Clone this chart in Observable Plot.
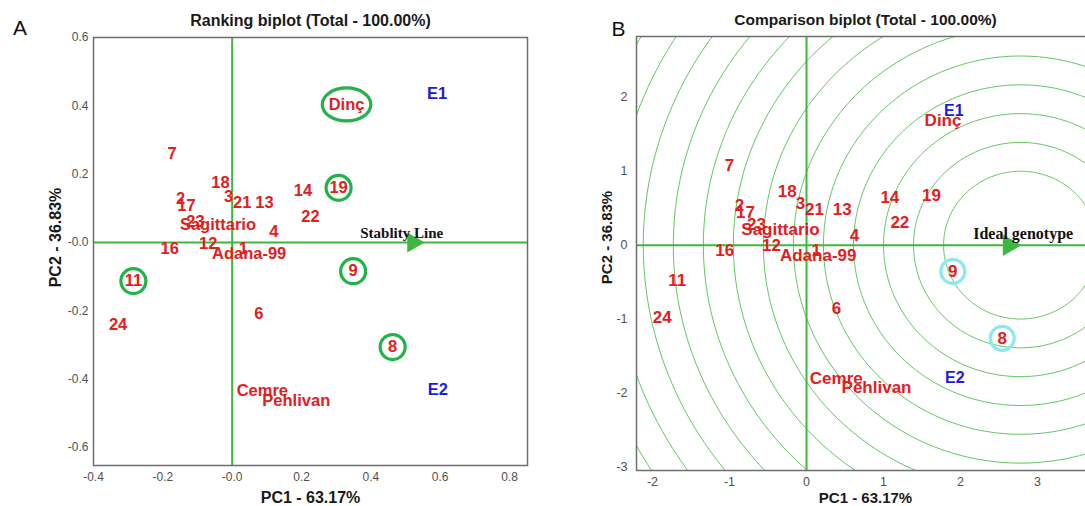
<!DOCTYPE html>
<html><head><meta charset="utf-8">
<script src="https://cdn.jsdelivr.net/npm/d3@7"></script>
<script src="https://cdn.jsdelivr.net/npm/@observablehq/plot@0.6"></script>
<style>
html,body{margin:0;padding:0;background:#fff;overflow:hidden;width:1085px;height:506px;}
#a{position:absolute;left:0;top:0;width:540px;height:506px;}
#b{position:absolute;left:570px;top:0;width:540px;height:506px;}
#a svg,#b svg{max-width:none !important;}
</style></head><body><div id="a"></div><div id="b"></div>
<script>
// ---------- data ----------
const genotypes = ["Dinç","7","18","2","17","3","21","13","14","19","22","Sagittario","23","4","16","12","1","Adana-99","11","24","9","6","8","Cemre","Pehlivan"];
// Ranking biplot (A)
const pc1A = [0.330,-0.173,-0.034,-0.149,-0.132,-0.010,0.029,0.093,0.204,0.307,0.226,-0.041,-0.106,0.120,-0.180,-0.069,0.032,0.049,-0.285,-0.329,0.349,0.077,0.463,0.087,0.185];
const pc2A = [0.404,0.260,0.175,0.128,0.109,0.135,0.116,0.116,0.153,0.160,0.075,0.051,0.062,0.033,-0.018,-0.003,-0.018,-0.032,-0.113,-0.240,-0.084,-0.208,-0.306,-0.433,-0.462];
// Comparison biplot (B)
const pc1B = [1.773,-1.000,-0.251,-0.870,-0.792,-0.078,0.104,0.464,1.082,1.623,1.212,-0.338,-0.649,0.623,-1.061,-0.455,0.126,0.152,-1.679,-1.874,1.900,0.390,2.542,0.386,0.909];
const pc2B = [1.689,1.081,0.726,0.531,0.442,0.564,0.486,0.477,0.645,0.669,0.307,0.216,0.274,0.135,-0.077,0.000,-0.077,-0.135,-0.482,-0.986,-0.355,-0.855,-1.261,-1.811,-1.923];
const environments = ["E1","E2"];
const envPc1A = [0.591,0.593];
const envPc2A = [0.435,-0.432];
const envPc1B = [1.913,1.926];
const envPc2B = [1.815,-1.797];
const circledA = ["Dinç","19","9","11","8"];
const circledB = ["9","8"];
// axis lines / arrows
const stabilityArrow = {x: 0.522, y: 0, label: "Stablity Line", lx: 0.489, ly: 0.028};
const idealArrow = {x: 2.63, y: 0, label: "Ideal genotype", lx: 2.814, ly: 0.149};
const ringCenter = {x: 2.78, y: 0};
const ringRadii = [1.00,1.39,1.78,2.17,2.56,2.95,3.34,3.73,4.12,4.51,4.90,5.29,5.68];
// ticks
const xTicksA = [-0.4,-0.2,0,0.2,0.4,0.6,0.8];
const xTickLabelsA = ["-0.4","-0.2","-0.0","0.2","0.4","0.6","0.8"];
const yTicksA = [0.6,0.4,0.2,0,-0.2,-0.4,-0.6];
const yTickLabelsA = ["0.6","0.4","0.2","-0.0","-0.2","-0.4","-0.6"];
const xTicksB = [-2,-1,0,1,2,3];
const xTickLabelsB = ["-2","-1","0","1","2","3"];
const yTicksB = [2,1,0,-1,-2,-3];
const yTickLabelsB = ["2","1","0","-1","-2","-3"];
const titleA = "Ranking biplot (Total - 100.00%)";
const titleB = "Comparison biplot (Total - 100.00%)";
const xLabel = "PC1 - 63.17%";
const yLabel = "PC2 - 36.83%";

// ---------- styles ----------
const RED = "#e0201e", BLUE = "#1c1cd8", GREEN = "#3cb93c", RING = "#62c662";
const SANS = "Liberation Sans, Arial, sans-serif";
const SERIF = "Liberation Serif, Times New Roman, serif";

const rowsA = genotypes.map((g,i)=>({g, x: pc1A[i], y: pc2A[i]}));
const rowsB = genotypes.map((g,i)=>({g, x: pc1B[i], y: pc2B[i]}));
const envA = environments.map((e,i)=>({e, x: envPc1A[i], y: envPc2A[i]}));
const envB = environments.map((e,i)=>({e, x: envPc1B[i], y: envPc2B[i]}));

const fmt = (ticks, labels) => d => labels[ticks.findIndex(t => Math.abs(t-d) < 1e-9)];

const ellipse = {draw(ctx, size){
  const r = Math.sqrt(size/Math.PI), rx = r*1.47, ry = r, k = 0.5523;
  ctx.moveTo(rx,0);
  ctx.bezierCurveTo(rx, ry*k, rx*k, ry, 0, ry);
  ctx.bezierCurveTo(-rx*k, ry, -rx, ry*k, -rx, 0);
  ctx.bezierCurveTo(-rx, -ry*k, -rx*k, -ry, 0, -ry);
  ctx.bezierCurveTo(rx*k, -ry, rx, -ry*k, rx, 0);
  ctx.closePath();
}};

function decor(title, letter, titleSize, labSize) {
  const isA = letter === "A";
  const c = {textAnchor: "middle", lineAnchor: "middle", fontFamily: SANS};
  return [
    Plot.text([title], {...c, frameAnchor: "top", dy: isA ? -17 : -16.5, fontWeight: "bold", fontSize: titleSize, fill: "#1a1a1a"}),
    Plot.text([letter], {...c, frameAnchor: "top-left", dx: isA ? -73.5 : -18, dy: isA ? -9.5 : -7.5, fontSize: 21, fill: "#111"}),
    Plot.text([xLabel], {...c, frameAnchor: "bottom", dy: isA ? 32 : 28, fontWeight: "bold", fontSize: labSize, fill: "#1a1a1a"}),
    Plot.text([yLabel], {...c, frameAnchor: "left", dx: isA ? -38 : -29, dy: isA ? -14 : -16, rotate: -90, fontWeight: "bold", fontSize: labSize, fill: "#1a1a1a"})
  ];
}

// ---------- Panel A ----------
const plotA = Plot.plot({
  width: 540, height: 506,
  marginLeft: 93, marginRight: 13, marginTop: 37, marginBottom: 41,
  x: {domain: [-0.4, 0.852]},
  y: {domain: [-0.6526, 0.6]},
  style: {fontFamily: SANS, fontSize: "12px", color: "#505050", background: "transparent", overflow: "visible"},
  marks: [
    Plot.ruleY([0], {stroke: GREEN, strokeWidth: 2}),
    Plot.ruleX([0], {stroke: GREEN, strokeWidth: 2}),
    Plot.frame({stroke: "#6e6e6e", strokeWidth: 1.5}),
    Plot.axisX(xTicksA, {tickSize: 0, tickPadding: 7, tickFormat: fmt(xTicksA, xTickLabelsA), label: null, fontSize: 12}),
    Plot.axisY(yTicksA, {tickSize: 0, tickPadding: 5, tickFormat: fmt(yTicksA, yTickLabelsA), label: null, fontSize: 12}),
    Plot.dot([stabilityArrow], {x: "x", y: "y", symbol: "triangle", rotate: 90, r: 7.5, fill: GREEN, stroke: "none"}),
    Plot.text([stabilityArrow], {x: "lx", y: "ly", text: "label", fontFamily: SERIF, fontWeight: "bold", fontSize: 15, fill: "#111"}),
    Plot.dot(rowsA.filter(d => circledA.includes(d.g) && d.g !== "Dinç"), {x: "x", y: "y", r: 12.5, stroke: "#22b24a", strokeWidth: 3.2, fill: "none"}),
    Plot.dot(rowsA.filter(d => d.g === "Dinç"), {x: "x", y: "y", r: 16.5, symbol: ellipse, stroke: "#22b24a", strokeWidth: 3.2, fill: "none"}),
    Plot.text(rowsA, {x: "x", y: "y", text: "g", fill: RED, fontWeight: "bold", fontSize: 16.5, fontFamily: SANS}),
    Plot.text(envA, {x: "x", y: "y", text: "e", fill: BLUE, fontWeight: "bold", fontSize: 16.5, fontFamily: SANS}),
    ...decor(titleA, "A", 16, 16)
  ]
});
document.getElementById("a").append(plotA);

// ---------- Panel B ----------
const ringPts = ringRadii.flatMap(r => d3.range(0, 361, 1.5).map(a => ({r, x: ringCenter.x + r*Math.cos(a*Math.PI/180), y: ringCenter.y + r*Math.sin(a*Math.PI/180)})));
const plotB = Plot.plot({
  width: 540, height: 506,
  marginLeft: 66, marginRight: 16, marginTop: 36, marginBottom: 36,
  x: {domain: [-2.208, 3.74]},
  y: {domain: [-3.05, 2.824]},
  style: {fontFamily: SANS, fontSize: "12px", color: "#505050", background: "transparent", overflow: "visible"},
  marks: [
    Plot.line(ringPts, {x: "x", y: "y", z: "r", stroke: RING, strokeWidth: 1, clip: true}),
    Plot.ruleY([0], {stroke: GREEN, strokeWidth: 2}),
    Plot.ruleX([0], {stroke: GREEN, strokeWidth: 2}),
    Plot.frame({stroke: "#6e6e6e", strokeWidth: 1.5}),
    Plot.axisX(xTicksB, {tickSize: 0, tickPadding: 7, tickFormat: fmt(xTicksB, xTickLabelsB), label: null, fontSize: 12.5}),
    Plot.axisY(yTicksB, {tickSize: 0, tickPadding: 9, tickFormat: fmt(yTicksB, yTickLabelsB), label: null, fontSize: 12.5}),
    Plot.dot([idealArrow], {x: "x", y: "y", symbol: "triangle", rotate: 90, r: 8, fill: GREEN, stroke: "none"}),
    Plot.text([idealArrow], {x: "lx", y: "ly", text: "label", fontFamily: SERIF, fontWeight: "bold", fontSize: 16, fill: "#111"}),
    Plot.dot(rowsB.filter(d => circledB.includes(d.g)), {x: "x", y: "y", r: 12, stroke: "#8ee8f0", strokeWidth: 3.2, fill: "none"}),
    Plot.text(envB, {x: "x", y: "y", text: "e", fill: BLUE, fontWeight: "bold", fontSize: 16, fontFamily: SANS}),
    Plot.text(rowsB, {x: "x", y: "y", text: "g", fill: RED, fontWeight: "bold", fontSize: 17, fontFamily: SANS}),
    ...decor(titleB, "B", 15.5, 15)
  ]
});
document.getElementById("b").append(plotB);
</script>
</body></html>
